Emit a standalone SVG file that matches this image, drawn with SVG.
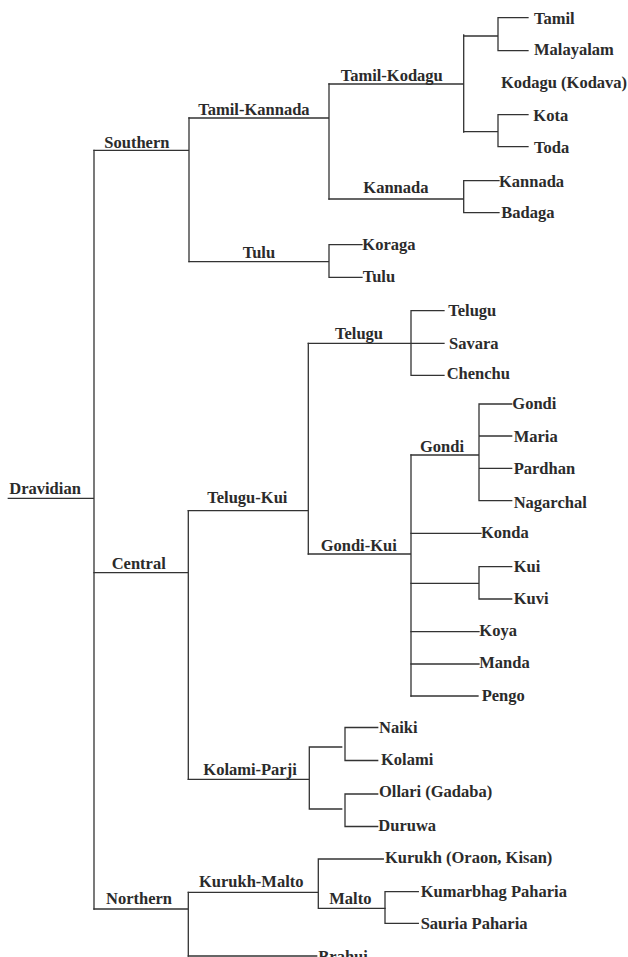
<svg xmlns="http://www.w3.org/2000/svg" width="628" height="957" viewBox="0 0 628 957">
<style>
  .e { fill: none; stroke: #333; stroke-width: 1.3; stroke-linecap: square; }
  text { font-family: "Liberation Serif", "Times New Roman", serif; font-weight: bold; font-size: 16.5px; fill: #2b2b2b; }
</style>
<rect width="628" height="957" fill="#fff"/>
<g id="connectors" class="e">
  <!-- root -->
  <path d="M8.3 498.3 H94 M94 150.3 V909"/>
  <!-- Southern -->
  <path d="M94 150.3 H189 M189 118 V261.7"/>
  <path d="M189 118 H329 M329 84 V199"/>
  <path d="M329 84 H463.7 M463.7 35 V132"/>
  <path d="M463.7 36 H498 M498 17.7 V50.7 M498 17.7 H528 M498 50.7 H528"/>
  <path d="M463.7 131.7 H498 M498 114.7 V146.7 M498 114.7 H528 M498 146.7 H528"/>
  <path d="M329 199 H463.7 M463.7 180.7 V212.7 M463.7 180.7 H499 M463.7 212.7 H499"/>
  <path d="M189 261.7 H329 M329 244.7 V277.3 M329 244.7 H362 M329 277.3 H362"/>
  <!-- Central -->
  <path d="M94 572.7 H188.3 M188.3 510.7 V779.3"/>
  <path d="M188.3 510.7 H308.3 M308.3 343.3 V554"/>
  <path d="M308.3 343.3 H411 M411 310.7 V375.3 M411 310.7 H444 M411 343.3 H444 M411 375.3 H444"/>
  <path d="M308.3 554 H411 M411 455 V696"/>
  <path d="M411 455 H479 M479 404 V500.7 M479 404 H511.7 M479 436 H511.7 M479 468.3 H511.7 M479 500.7 H511.7"/>
  <path d="M411 533.3 H481"/>
  <path d="M411 583.3 H479 M479 566.7 V599 M479 566.7 H511.7 M479 599 H511.7"/>
  <path d="M411 631.7 H479 M411 664 H479 M411 696 H478"/>
  <path d="M188.3 779.3 H309.3 M309.3 747 V809 M309.3 747 H341.7 M309.3 809 H341.7"/>
  <path d="M345 727.5 V760.5 M345 727.5 H377.7 M345 760.5 H377.7"/>
  <path d="M345 794 V826.5 M345 794 H377.7 M345 826.5 H377.7"/>
  <!-- Northern -->
  <path d="M94 909 H188.3 M188.3 892.3 V956"/>
  <path d="M188.3 892.3 H318.3 M318.3 859 V908.3 M318.3 859 H383.3 M318.3 908.3 H385"/>
  <path d="M385 891.7 V923.3 M385 891.7 H418.3 M385 923.3 H418.3"/>
  <path d="M188.3 956 H316.7"/>
</g>
<g id="n-dravidian"><text x="9.3" y="494.3">Dravidian</text></g>
<g id="n-southern"><text x="104.3" y="147.5">Southern</text></g>
<g id="n-central"><text x="111.7" y="569">Central</text></g>
<g id="n-northern"><text x="106" y="904">Northern</text></g>
<g id="n-tamil-kannada"><text x="198.3" y="115">Tamil-Kannada</text></g>
<g id="n-tulu-branch"><text x="242.7" y="258">Tulu</text></g>
<g id="n-telugu-kui"><text x="207.3" y="503.3">Telugu-Kui</text></g>
<g id="n-kolami-parji"><text x="203.3" y="775">Kolami-Parji</text></g>
<g id="n-kurukh-malto"><text x="199" y="887.3">Kurukh-Malto</text></g>
<g id="n-tamil-kodagu"><text x="340.7" y="81">Tamil-Kodagu</text></g>
<g id="n-kannada-branch"><text x="363.3" y="193">Kannada</text></g>
<g id="n-telugu-branch"><text x="335" y="339.3">Telugu</text></g>
<g id="n-gondi-kui"><text x="320.7" y="550.7">Gondi-Kui</text></g>
<g id="n-gondi-branch"><text x="420" y="451.7">Gondi</text></g>
<g id="n-malto"><text x="329.3" y="904">Malto</text></g>
<g id="l-tamil"><text x="534" y="24.3">Tamil</text></g>
<g id="l-malayalam"><text x="534" y="54.5">Malayalam</text></g>
<g id="l-kodagu"><text x="501" y="88.3">Kodagu (Kodava)</text></g>
<g id="l-kota"><text x="533.3" y="120.7">Kota</text></g>
<g id="l-toda"><text x="534" y="153.3">Toda</text></g>
<g id="l-kannada"><text x="499" y="186.7">Kannada</text></g>
<g id="l-badaga"><text x="501.3" y="218.3">Badaga</text></g>
<g id="l-koraga"><text x="362.3" y="249.7">Koraga</text></g>
<g id="l-tulu"><text x="362.7" y="282">Tulu</text></g>
<g id="l-telugu"><text x="448.3" y="316">Telugu</text></g>
<g id="l-savara"><text x="449" y="349">Savara</text></g>
<g id="l-chenchu"><text x="446.7" y="379.3">Chenchu</text></g>
<g id="l-gondi"><text x="512.3" y="409.3">Gondi</text></g>
<g id="l-maria"><text x="513.7" y="442">Maria</text></g>
<g id="l-pardhan"><text x="513.7" y="474.3">Pardhan</text></g>
<g id="l-nagarchal"><text x="513.7" y="507.5">Nagarchal</text></g>
<g id="l-konda"><text x="481" y="538.3">Konda</text></g>
<g id="l-kui"><text x="513.7" y="571.7">Kui</text></g>
<g id="l-kuvi"><text x="513.7" y="604">Kuvi</text></g>
<g id="l-koya"><text x="479.3" y="636">Koya</text></g>
<g id="l-manda"><text x="479.3" y="668.3">Manda</text></g>
<g id="l-pengo"><text x="481.7" y="700.7">Pengo</text></g>
<g id="l-naiki"><text x="379" y="732.7">Naiki</text></g>
<g id="l-kolami"><text x="381" y="765">Kolami</text></g>
<g id="l-ollari"><text x="379" y="797.3">Ollari (Gadaba)</text></g>
<g id="l-duruwa"><text x="378.3" y="831">Duruwa</text></g>
<g id="l-kurukh"><text x="385" y="863.3">Kurukh (Oraon, Kisan)</text></g>
<g id="l-kumarbhag"><text x="420.7" y="897.3">Kumarbhag Paharia</text></g>
<g id="l-sauria"><text x="420.7" y="929.3">Sauria Paharia</text></g>
<g id="l-brahui"><text x="318.3" y="962">Brahui</text></g>
</svg>
